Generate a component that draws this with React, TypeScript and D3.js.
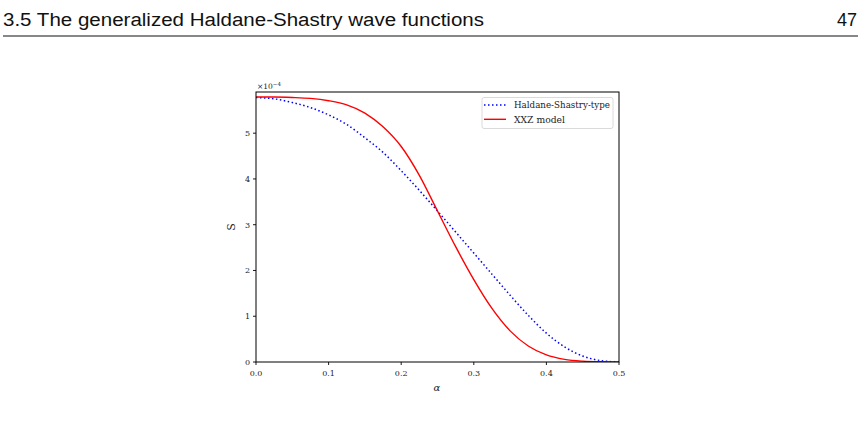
import React from 'react';
import * as d3 from 'd3';

// alpha grid and the two entropy curves (units of 1e-4)
const alphas = [0, 0.025, 0.05, 0.075, 0.1, 0.125, 0.15, 0.175, 0.2, 0.225, 0.25,
  0.275, 0.3, 0.325, 0.35, 0.375, 0.4, 0.425, 0.45, 0.475, 0.5];
const hsValues = [5.78, 5.75, 5.67, 5.56, 5.4, 5.19, 4.9, 4.58, 4.18, 3.75, 3.3,
  2.84, 2.38, 1.92, 1.46, 1.02, 0.63, 0.33, 0.13, 0.03, 0];
const xxzValues = [5.79, 5.79, 5.78, 5.76, 5.71, 5.62, 5.44, 5.14, 4.71, 4.08, 3.3,
  2.52, 1.8, 1.17, 0.68, 0.35, 0.155, 0.058, 0.018, 0.004, 0];
const xTicks = [0, 0.1, 0.2, 0.3, 0.4, 0.5];
const yTicks = [0, 1, 2, 3, 4, 5];
const seriesNames = ['Haldane-Shastry-type', 'XXZ model'];
const headerText = '3.5 The generalized Haldane-Shastry wave functions';
const pageNumber = '47';

const W = 863;
const H = 425;
const plot = { left: 256, right: 619, top: 92, bottom: 362 };
const serif = '"DejaVu Serif", "Liberation Serif", serif';

export default function App() {
  const x = d3.scaleLinear().domain([0, 0.5]).range([plot.left, plot.right]);
  const y = d3.scaleLinear().domain([0, 5.9]).range([plot.bottom, plot.top]);

  const line = d3.line<number>()
    .x((_, i) => x(alphas[i]))
    .y((d) => y(d))
    .curve(d3.curveMonotoneX);

  return (
    <svg width={W} height={H} style={{ position: 'absolute', left: 0, top: 0, background: '#fff' }}>
      {/* page header */}
      <text x={3} y={26} fontFamily='"Liberation Sans", sans-serif' fontSize={18} fill="#111"
        textLength={481} lengthAdjust="spacingAndGlyphs">{headerText}</text>
      <text x={857} y={26} fontFamily='"Liberation Sans", sans-serif' fontSize={18} fill="#111"
        textAnchor="end">{pageNumber}</text>
      <line x1={3} x2={858} y1={36} y2={36} stroke="#111" strokeWidth={1} />

      <defs>
        <clipPath id="plotClip">
          <rect x={plot.left} y={plot.top - 2} width={plot.right - plot.left} height={plot.bottom - plot.top + 2} />
        </clipPath>
      </defs>

      {/* curves */}
      <g clipPath="url(#plotClip)">
        <path d={line(hsValues) || ''} fill="none" stroke="#0000ff" strokeWidth={1.5} strokeDasharray="1.5 2.5" />
        <path d={line(xxzValues) || ''} fill="none" stroke="#ff0000" strokeWidth={1.4} />
      </g>

      {/* frame */}
      <rect x={plot.left} y={plot.top} width={plot.right - plot.left} height={plot.bottom - plot.top}
        fill="none" stroke="#000" strokeWidth={1} />

      {/* x axis */}
      {xTicks.map((t) => (
        <g key={'x' + t}>
          <line x1={x(t)} x2={x(t)} y1={plot.bottom} y2={plot.bottom + 3} stroke="#000" strokeWidth={0.9} />
          <text x={x(t)} y={376} textAnchor="middle" fontFamily={serif} fontSize={8} fill="#222">{t.toFixed(1)}</text>
        </g>
      ))}
      <text x={437} y={391} textAnchor="middle" fontFamily={serif} fontStyle="italic" fontSize={10} fill="#222">α</text>

      {/* y axis */}
      {yTicks.map((t) => (
        <g key={'y' + t}>
          <line x1={plot.left - 3} x2={plot.left} y1={y(t)} y2={y(t)} stroke="#000" strokeWidth={0.9} />
          <text x={250} y={y(t) + 3} textAnchor="end" fontFamily={serif} fontSize={8} fill="#222">{t}</text>
        </g>
      ))}
      <text x={257} y={89} fontFamily={serif} fontSize={7.5} fill="#222">
        ×10<tspan dy={-3} fontSize={5.5}>−4</tspan>
      </text>
      <text transform="translate(235,227) rotate(-90)" textAnchor="middle" fontFamily={serif} fontSize={11} fill="#222">S</text>

      {/* legend */}
      <rect x={482} y={97.5} width={131} height={31} rx={2} fill="#fff" stroke="#d0d0d0" strokeWidth={0.8} />
      <line x1={484} x2={506} y1={105} y2={105} stroke="#0000ff" strokeWidth={1.5} strokeDasharray="1.5 2.5" />
      <line x1={484} x2={506} y1={119.3} y2={119.3} stroke="#ff0000" strokeWidth={1.4} />
      <text x={514} y={108.2} fontFamily={serif} fontSize={9} fill="#222" textLength={96} lengthAdjust="spacingAndGlyphs">{seriesNames[0]}</text>
      <text x={514} y={122.5} fontFamily={serif} fontSize={9} fill="#222" textLength={51} lengthAdjust="spacingAndGlyphs">{seriesNames[1]}</text>
    </svg>
  );
}
